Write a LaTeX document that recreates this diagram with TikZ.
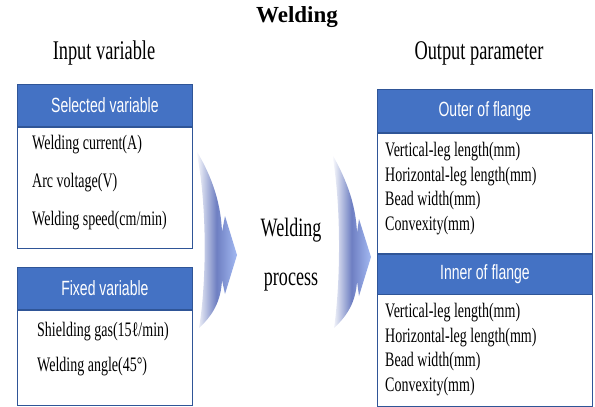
\documentclass[tikz,border=0pt]{standalone}
\usepackage{fontspec}
\setmainfont{Liberation Serif}[FakeStretch=0.68]
\setsansfont{Liberation Sans}[FakeStretch=0.68]
\newfontfamily\titlefont{Liberation Serif}
\usepackage{xcolor}
\usepackage{tikz}
\usetikzlibrary{positioning}

\definecolor{headblue}{HTML}{4472C4}
\definecolor{edgeblue}{HTML}{2F5597}
\definecolor{arrowmid}{HTML}{6E7FC2}
\definecolor{arrowtip}{HTML}{A3B9F2}

\tikzset{
	headbox/.style={draw=edgeblue, fill=headblue, text=white, line width=0.8pt,
		font=\sffamily\fontsize{20.6}{23}\selectfont, inner sep=0pt, anchor=north west},
	bodybox/.style={draw=edgeblue, fill=white, line width=0.8pt, inner sep=0pt, anchor=north},
	itemtext/.style={anchor=west, inner sep=0pt, font=\fontsize{20.6}{23}\selectfont},
	heading/.style={font=\fontsize{27}{30}\selectfont},
	procbig/.style={font=\fontsize{26.5}{29}\selectfont},
	arrowfill/.style={left color=white, right color=arrowtip, middle color=arrowmid}
}

\begin{document}
\begin{tikzpicture}[x=1pt,y=-1pt]
	\useasboundingbox (0,0) rectangle (595,407);
	\node[font=\titlefont\bfseries\fontsize{23}{26}\selectfont] (title) at (297,17) {Welding};
	\node[heading] (input) at (104,53) {Input variable};
	\node[heading] (output) at (479,53) {Output parameter};
	
	% input side
	\node[headbox, minimum width=175pt, minimum height=42pt] (selhead) at (17,84) {Selected variable};
	\node[bodybox, minimum width=175pt, minimum height=121pt] (selbody) at (selhead.south) {};
	\node[itemtext] (current) at (32,145) {Welding current(A)};
	\node[itemtext] (voltage) at (32,183) {Arc voltage(V)};
	\node[itemtext] (speed) at (32,221) {Welding speed(cm/min)};
	
	\node[headbox, minimum width=175pt, minimum height=42pt] (fixhead) at (17,267) {Fixed variable};
	\node[bodybox, minimum width=175pt, minimum height=95pt] (fixbody) at (fixhead.south) {};
	\node[itemtext] (gas) at (37,332) {Shielding gas(15ℓ/min)};
	\node[itemtext] (angle) at (37,367) {Welding angle(45°)};
	
	% process
	\path[arrowfill] (196,150) .. controls (213,178) and (221,205) .. (222,232) -- (225,216) -- (237,255)
		-- (225,294) -- (222,280) .. controls (221,302) and (212,316) .. (199,328)
		.. controls (207,280) and (207,200) .. cycle;
	\node[procbig] (weld) at (291,230) {Welding};
	\node[procbig] (process) at (291,282) {process};
	\path[arrowfill] (332,154) .. controls (348,182) and (356,207) .. (357,233) -- (359,219) -- (371,257)
		-- (359,296) -- (357,281) .. controls (356,302) and (347,316) .. (334,328)
		.. controls (341,280) and (341,200) .. cycle;
	
	% output side
	\node[headbox, minimum width=215pt, minimum height=43pt] (outhead) at (377,89) {Outer of flange};
	\node[bodybox, minimum width=215pt, minimum height=120pt] (outbody) at (outhead.south) {};
	\node[itemtext] (overt) at (385,152) {Vertical-leg length(mm)};
	\node[itemtext] (ohori) at (385,177) {Horizontal-leg length(mm)};
	\node[itemtext] (obead) at (385,201) {Bead width(mm)};
	\node[itemtext] (oconv) at (385,226) {Convexity(mm)};
	
	\node[headbox, minimum width=215pt, minimum height=40pt] (inhead) at (outbody.south west) {Inner of flange};
	\node[bodybox, minimum width=215pt, minimum height=112pt] (inbody) at (inhead.south) {};
	\node[itemtext] (ivert) at (385,313) {Vertical-leg length(mm)};
	\node[itemtext] (ihori) at (385,338) {Horizontal-leg length(mm)};
	\node[itemtext] (ibead) at (385,362) {Bead width(mm)};
	\node[itemtext] (iconv) at (385,387) {Convexity(mm)};
\end{tikzpicture}
\end{document}
